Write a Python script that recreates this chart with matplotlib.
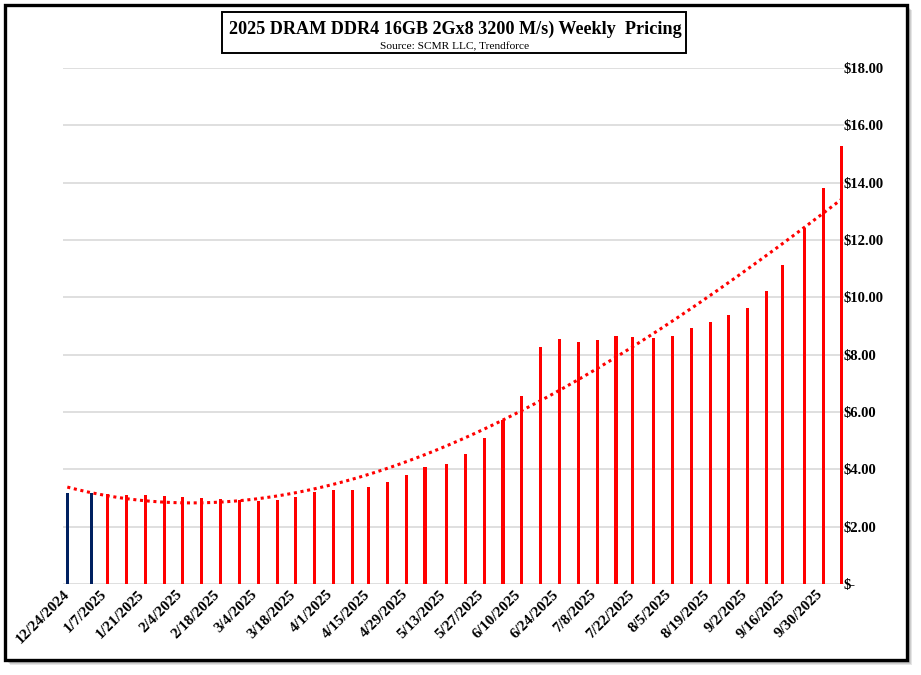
"""
Weekly DDR4 pricing chart (bars on a date axis with a polynomial trendline).
"""
import numpy as np
import pandas as pd
import matplotlib
matplotlib.use("Agg")
import matplotlib.pyplot as plt
from matplotlib.patches import Rectangle

# --- data -------------------------------------------------------------
dates_prior = ["2024-12-24", "2025-01-02"]
prices_prior = [3.17, 3.17]

dates_2025 = [
    "2025-01-08", "2025-01-15", "2025-01-22", "2025-01-29", "2025-02-05",
    "2025-02-12", "2025-02-19", "2025-02-26", "2025-03-05", "2025-03-12",
    "2025-03-19", "2025-03-26", "2025-04-02", "2025-04-09", "2025-04-15",
    "2025-04-22", "2025-04-29", "2025-05-06", "2025-05-14", "2025-05-21",
    "2025-05-28", "2025-06-04", "2025-06-11", "2025-06-18", "2025-06-25",
    "2025-07-02", "2025-07-09", "2025-07-16", "2025-07-22", "2025-07-30",
    "2025-08-06", "2025-08-13", "2025-08-20", "2025-08-27", "2025-09-03",
    "2025-09-10", "2025-09-16", "2025-09-24", "2025-10-01", "2025-10-08",
]
prices_2025 = [
    3.15, 3.11, 3.10, 3.08, 3.05, 3.01, 2.96, 2.92, 2.91, 2.94,
    3.03, 3.20, 3.27, 3.27, 3.39, 3.57, 3.80, 4.08, 4.20, 4.55,
    5.10, 5.73, 6.55, 8.27, 8.54, 8.43, 8.50, 8.64, 8.61, 8.59,
    8.65, 8.92, 9.13, 9.37, 9.63, 10.21, 11.12, 12.43, 13.83, 15.28,
]

tick_dates = [
    "2024-12-24", "2025-01-07", "2025-01-21", "2025-02-04", "2025-02-18",
    "2025-03-04", "2025-03-18", "2025-04-01", "2025-04-15", "2025-04-29",
    "2025-05-13", "2025-05-27", "2025-06-10", "2025-06-24", "2025-07-08",
    "2025-07-22", "2025-08-05", "2025-08-19", "2025-09-02", "2025-09-16",
    "2025-09-30",
]
tick_labels = [
    "12/24/2024", "1/7/2025", "1/21/2025", "2/4/2025", "2/18/2025",
    "3/4/2025", "3/18/2025", "4/1/2025", "4/15/2025", "4/29/2025",
    "5/13/2025", "5/27/2025", "6/10/2025", "6/24/2025", "7/8/2025",
    "7/22/2025", "8/5/2025", "8/19/2025", "9/2/2025", "9/16/2025",
    "9/30/2025",
]
ytick_values = [0, 2, 4, 6, 8, 10, 12, 14, 16, 18]
ytick_labels = ["$-", "$2.00", "$4.00", "$6.00", "$8.00", "$10.00",
                "$12.00", "$14.00", "$16.00", "$18.00"]

title = "2025 DRAM DDR4 16GB 2Gx8 3200 M/s) Weekly  Pricing"
subtitle = "Source: SCMR LLC, Trendforce"

RED = "#FF0000"
NAVY = "#002060"
SERIF = ["Liberation Serif", "DejaVu Serif"]

W, H = 921, 675


def px_rect(x0, y0, x1, y1):
    """Figure-pixel box (top-left origin) -> figure fraction rect args."""
    return (x0 / W, 1 - y1 / H), (x1 - x0) / W, (y1 - y0) / H


def shadowed_box(fig, x0, y0, x1, y1, lw, depth):
    # soft grey drop shadow, then white box with black edge
    for i in range(depth, 0, -1):
        xy, w, h = px_rect(x0 + i, y0 + i, x1 + i, y1 + i)
        fig.patches.append(Rectangle(xy, w, h, transform=fig.transFigure,
                                     facecolor="#000000", edgecolor="none",
                                     alpha=0.10, zorder=0))
    xy, w, h = px_rect(x0, y0, x1, y1)
    fig.patches.append(Rectangle(xy, w, h, transform=fig.transFigure,
                                 facecolor="white", edgecolor="black",
                                 linewidth=lw, zorder=1))


fig = plt.figure(figsize=(W / 100, H / 100), dpi=100)
fig.patch.set_facecolor("white")

shadowed_box(fig, 5, 5, 907, 660, 2.4, 5)

ax = fig.add_axes([63 / W, 1 - 584 / H, (843.5 - 63) / W, (584 - 68) / H])
ax.set_facecolor("none")
ax.set_zorder(3)

d_prior = pd.to_datetime(dates_prior)
d_2025 = pd.to_datetime(dates_2025)

ax.bar(d_prior, prices_prior, width=1.15, color=NAVY, zorder=3)
ax.bar(d_2025, prices_2025, width=1.15, color=RED, zorder=3)

# polynomial trendline over all points
all_d = d_prior.append(d_2025)
all_y = np.array(prices_prior + prices_2025)
t = (all_d - all_d[0]).days.values.astype(float)
coef = np.polyfit(t, all_y, 3)
tt = np.linspace(t.min(), t.max(), 300)
ax.plot(all_d[0] + pd.to_timedelta(tt, unit="D"), np.polyval(coef, tt),
        color=RED, linewidth=2.2, linestyle=(0, (1, 1.2)), zorder=4)

start = pd.Timestamp("2024-12-24") - pd.Timedelta(days=1.6)
end = pd.Timestamp("2025-10-08") + pd.Timedelta(days=0.6)
ax.set_xlim(start, end)
ax.set_ylim(0, 18)

ax.set_xticks(pd.to_datetime(tick_dates))
ax.set_xticklabels(tick_labels, rotation=45, ha="right", va="center",
                   rotation_mode="anchor", fontsize=11, fontweight="bold",
                   family=SERIF)
ax.tick_params(axis="x", length=0, pad=6)

ax.yaxis.tick_right()
ax.set_yticks(ytick_values)
ax.set_yticklabels(ytick_labels, fontsize=10.5, fontweight="bold", family=SERIF)
ax.tick_params(axis="y", length=0, pad=0)

ax.grid(axis="y", color="#D9D9D9", linewidth=1.2, zorder=0)
ax.set_axisbelow(True)
for s in ax.spines.values():
    s.set_visible(False)

# title box
shadowed_box(fig, 222, 12, 686, 53, 1.4, 4)
fig.text(455 / W, 1 - 29.5 / H, title, ha="center", va="center",
         fontsize=13.1, fontweight="bold", family=SERIF, zorder=5)
fig.text(455 / W, 1 - 46.5 / H, subtitle, ha="center", va="center",
         fontsize=8.2, family=SERIF, zorder=5)

fig.savefig("out.png", dpi=100)
plt.close(fig)
